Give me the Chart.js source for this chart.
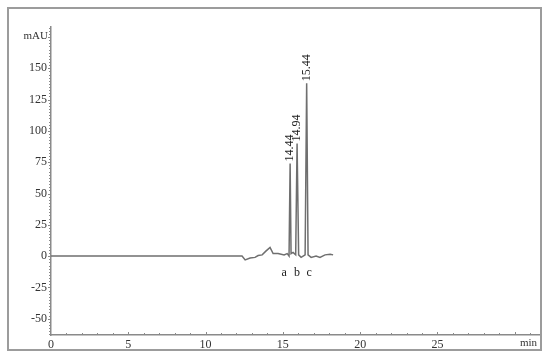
<!DOCTYPE html>
<html>
<head>
<meta charset="utf-8">
<script src="https://cdn.jsdelivr.net/npm/chart.js@4/dist/chart.umd.min.js"></script>
<style>
  body { margin: 0; background: #fff; }
  #wrap { width: 550px; height: 358px; }
</style>
</head>
<body>
<div id="wrap"><canvas id="chrom" width="550" height="358"></canvas></div>
<script>
// retention time (min) and absorbance (mAU)
var times = [0, 12.36, 12.56, 12.88, 13.2, 13.4, 13.66, 13.9, 14.17, 14.37, 14.69, 15.08, 15.28,
  15.4, 15.47, 15.53, 15.66, 15.83, 15.92, 16.02, 16.18, 16.31,
  16.44, 16.54, 16.63, 16.83, 17.15, 17.4, 17.73, 18.06, 18.25];
var mau = [0, 0, -3, -1.5, -1, 0.5, 1, 4, 7, 2, 2, 1, 2,
  0, 74, 2, 3, 1, 90, 1, -1, 0,
  1, 138, 1, -1, 0, -1, 1, 1.5, 1];

// peak labels
var peakTimes = [15.47, 15.92, 16.54];
var peakHeights = [74, 90, 138];
var peakLabels = ['14.44', '14.94', '15.44'];

// letters under the peaks
var letters = ['a', 'b', 'c'];
var letterTimes = [15.08, 15.92, 16.7];
var letterY = -13;

var xTicks = [0, 5, 10, 15, 20, 25];
var yTicks = [-50, -25, 0, 25, 50, 75, 100, 125, 150];

var serif = '"Liberation Serif", "DejaVu Serif", serif';

var decor = {
  id: 'decor',
  beforeDraw(chart) {
    var ctx = chart.ctx;
    ctx.save();
    ctx.fillStyle = '#fff';
    ctx.fillRect(0, 0, chart.width, chart.height);
    ctx.restore();
  },
  afterDraw(chart) {
    var ctx = chart.ctx, x = chart.scales.x, y = chart.scales.y, a = chart.chartArea;
    ctx.save();
    // outer frame
    ctx.strokeStyle = '#9c9c9c';
    ctx.lineWidth = 2;
    ctx.strokeRect(8, 8, 533, 342);

    // tick marks
    ctx.strokeStyle = '#8a8a8a';
    ctx.lineWidth = 1;
    ctx.beginPath();
    for (var t = 1; t <= 31; t++) {
      var px = Math.round(x.getPixelForValue(t)) + 0.5;
      ctx.moveTo(px, a.bottom);
      ctx.lineTo(px, a.bottom - (t % 5 ? 2 : 3));
    }
    for (var v = -62.5; v <= 182.5; v += 2.5) {
      var py = Math.round(y.getPixelForValue(v)) + 0.5;
      ctx.moveTo(a.left, py);
      ctx.lineTo(a.left - (v % 25 ? 2 : 3), py);
    }
    ctx.stroke();

    // axis titles
    ctx.fillStyle = '#333';
    ctx.font = '11px ' + serif;
    ctx.textAlign = 'right';
    ctx.textBaseline = 'middle';
    ctx.fillText('mAU', a.left - 3, y.getPixelForValue(176));
    ctx.fillText('min', 537, 343);

    // peak retention time labels
    ctx.font = '12px ' + serif;
    ctx.fillStyle = '#222';
    for (var i = 0; i < peakLabels.length; i++) {
      var lx = x.getPixelForValue(peakTimes[i]);
      var ly = y.getPixelForValue(peakHeights[i]) - 2;
      ctx.save();
      ctx.translate(lx, ly);
      ctx.rotate(-Math.PI / 2);
      ctx.textAlign = 'left';
      ctx.textBaseline = 'middle';
      ctx.fillText(peakLabels[i], 0, 0);
      ctx.restore();
    }

    // a b c
    ctx.textAlign = 'center';
    ctx.textBaseline = 'middle';
    for (var j = 0; j < letters.length; j++) {
      ctx.fillText(letters[j], x.getPixelForValue(letterTimes[j]), y.getPixelForValue(letterY));
    }
    ctx.restore();
  }
};

new Chart(document.getElementById('chrom'), {
  type: 'line',
  data: {
    datasets: [{
      data: times.map(function (t, i) { return { x: t, y: mau[i] }; }),
      borderColor: '#6f6f6f',
      borderWidth: 1.5,
      pointRadius: 0,
      tension: 0,
      fill: false
    }]
  },
  options: {
    responsive: false,
    animation: false,
    layout: { padding: { top: 27, right: 9, left: 0, bottom: 0 } },
    plugins: { legend: { display: false }, tooltip: { enabled: false } },
    scales: {
      x: {
        type: 'linear',
        min: 0,
        max: 31.7,
        afterFit: function (s) { s.height = 23; },
        afterBuildTicks: function (s) { s.ticks = xTicks.map(function (v) { return { value: v }; }); },
        grid: { display: false, drawTicks: false },
        border: { display: true, color: '#8a8a8a', width: 1.5 },
        ticks: { padding: 3, color: '#333', font: { family: serif, size: 12 }, maxRotation: 0 }
      },
      y: {
        min: -63,
        max: 183,
        afterFit: function (s) { s.width = 51; },
        afterBuildTicks: function (s) { s.ticks = yTicks.map(function (v) { return { value: v }; }); },
        grid: { display: false, drawTicks: false },
        border: { display: true, color: '#8a8a8a', width: 1.5 },
        ticks: { padding: 4, color: '#333', font: { family: serif, size: 12 } }
      }
    }
  },
  plugins: [decor]
});
</script>
</body>
</html>
